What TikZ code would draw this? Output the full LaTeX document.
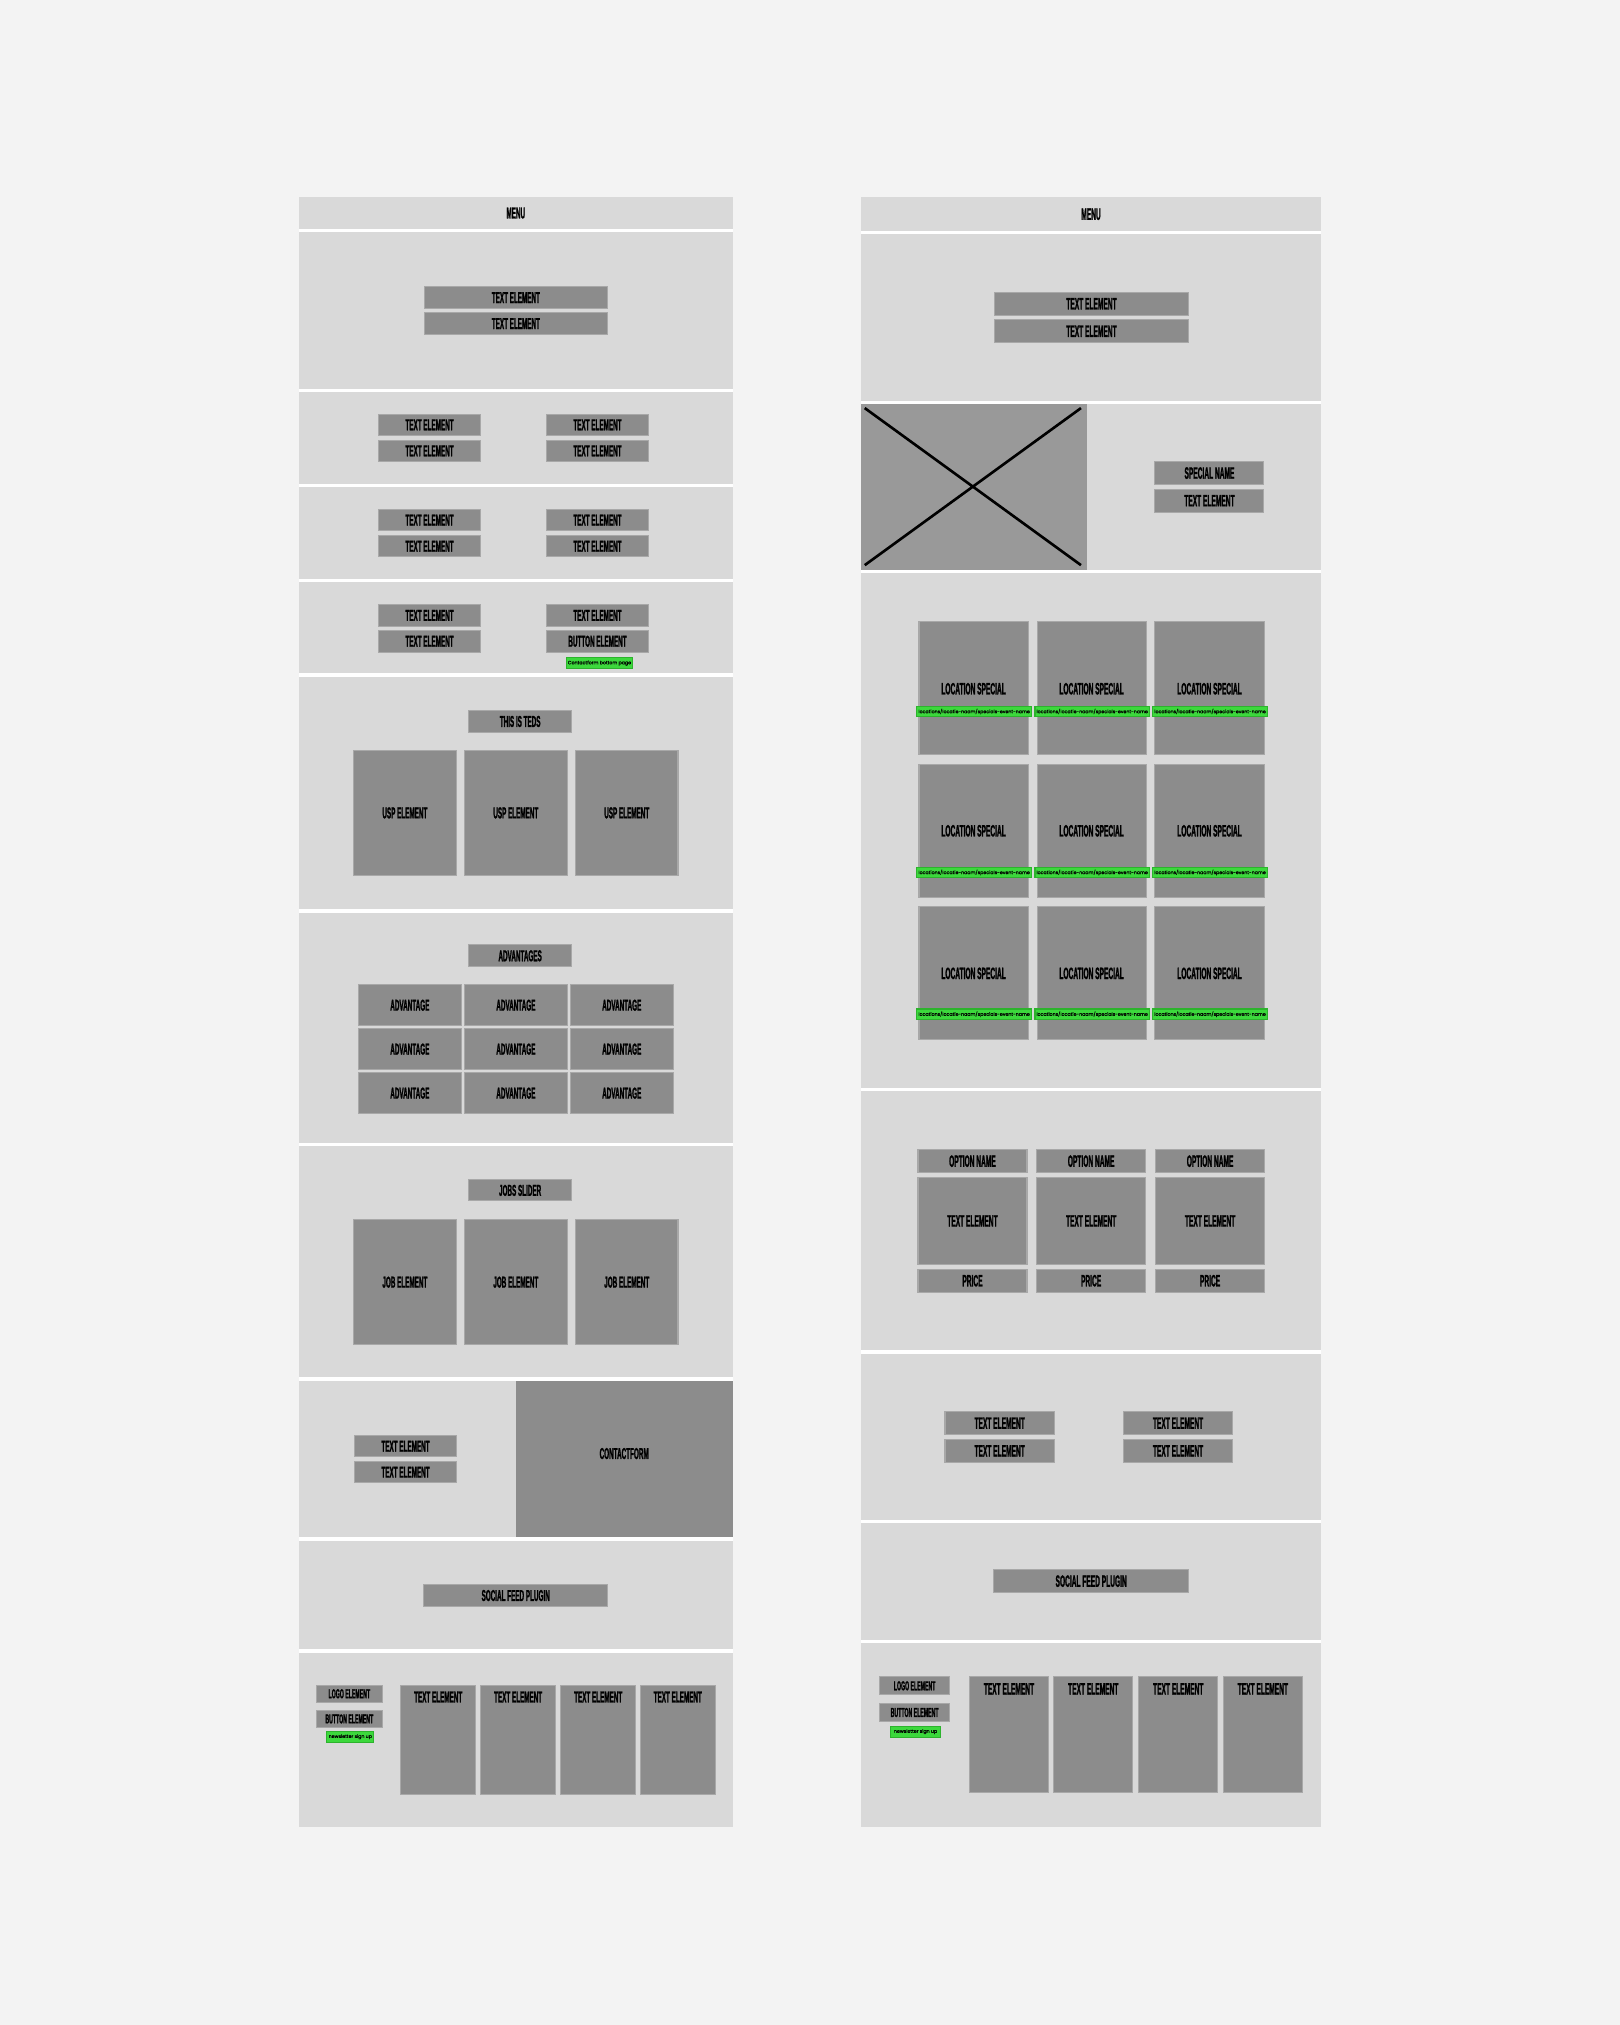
\documentclass[tikz,border=0pt]{standalone}
\usepackage{fontspec}
\newfontfamily\wirefont[FakeStretch=0.4,FakeBold=1.2]{Liberation Sans Bold}
\newfontfamily\tagfont[FakeBold=0.6]{Poppins}
\definecolor{pagebg}{HTML}{F3F3F3}
\definecolor{secgray}{HTML}{D9D9D9}
\definecolor{boxgray}{HTML}{8C8C8C}
\definecolor{boxedge}{HTML}{A8A8A8}
\definecolor{imggray}{HTML}{999999}
\definecolor{taggreen}{HTML}{3CD83C}
\definecolor{tagedge}{HTML}{2DB32D}
\tikzset{
  sec/.style={fill=secgray},
  elem/.style={fill=boxgray, draw=boxedge, line width=0.3pt},
  lbl/.style={font=\wirefont\fontsize{4.5}{5}\selectfont, inner sep=0pt},
  lblR/.style={font=\wirefont\fontsize{4.7}{5}\selectfont, inner sep=0pt},
  lblS/.style={font=\wirefont\fontsize{3.7}{4}\selectfont, inner sep=0pt},
  tag/.style={fill=taggreen, draw=tagedge, line width=0.3pt},
  taglbl/.style={font=\tagfont\fontsize{1.35}{1.6}\selectfont, inner sep=0pt}
}
\begin{document}
\begin{tikzpicture}[x=0.0129187cm, y=-0.0129187cm]
\fill[pagebg] (0,0) rectangle (1254,1568);
\useasboundingbox (0,0) rectangle (1254,1568);

%%% desktop page (left)
\fill[white] (231.5,152.7) rectangle (567.2,1414.7);
\foreach \a/\b in {152.7/177.3,179.8/301.1,303.4/374.9,377.2/448.2,450.8/521.5,524.3/703.9,
  706.7/885.3,887.6/1066.4,1069.2/1190.3,1193.1/1277.2,1279.8/1414.7}
  \fill[sec] (231.5,\a) rectangle (567.2,\b);

\node[lbl] (menuL) at (399.4,165) {MENU};

\foreach \x/\y/\X/\Y/\t [count=\i] in {
  328.5/222.2/470.4/238.7/TEXT ELEMENT,
  328.5/242.3/470.4/258.8/TEXT ELEMENT,
  292.9/320.7/372.3/337.2/TEXT ELEMENT,
  422.9/320.7/502.4/337.2/TEXT ELEMENT,
  292.9/340.8/372.3/357.4/TEXT ELEMENT,
  422.9/340.8/502.4/357.4/TEXT ELEMENT,
  292.9/394.5/372.3/411/TEXT ELEMENT,
  422.9/394.5/502.4/411/TEXT ELEMENT,
  292.9/414.7/372.3/431.2/TEXT ELEMENT,
  422.9/414.7/502.4/431.2/TEXT ELEMENT,
  292.9/468.3/372.3/484.8/TEXT ELEMENT,
  422.9/468.3/502.4/484.8/TEXT ELEMENT,
  292.9/488.2/372.3/504.9/TEXT ELEMENT,
  422.9/488.2/502.4/504.9/BUTTON ELEMENT,
  363/550.4/442.5/566.9/THIS IS TEDS,
  273.8/580.8/353.2/678.1/USP ELEMENT,
  359.7/580.8/439.1/678.1/USP ELEMENT,
  445.6/580.8/525/678.1/USP ELEMENT,
  363/731.7/442.5/748.5/ADVANTAGES,
  363/913.6/442.5/929.9/JOBS SLIDER,
  273.8/944.4/353.2/1041.2/JOB ELEMENT,
  359.7/944.4/439.1/1041.2/JOB ELEMENT,
  445.6/944.4/525/1041.2/JOB ELEMENT,
  274.3/1111.6/353.7/1128.1/TEXT ELEMENT,
  274.3/1131.7/353.7/1148.2/TEXT ELEMENT,
  328.2/1227.2/470.4/1243.7/SOCIAL FEED PLUGIN}
{
  \draw[elem] (\x,\y) rectangle (\X,\Y);
  \node[lbl] (L\i) at ({(\x+\X)/2},{(\y+\Y)/2}) {\t};
}

% contact form block
\fill[boxgray] (399.4,1069.2) rectangle (567.2,1190.3);
\node[lbl] (form) at (483.3,1125.5) {CONTACTFORM};

% advantages grid
\foreach \y [count=\r] in {762.5,796.5,830.6}
  \foreach \x [count=\c] in {277.6,359.7,441.7}
  {
    \draw[elem] (\x,\y) rectangle ++(79.5,31.7);
    \node[lbl] (adv\r\c) at (\x+39.75,\y+15.85) {ADVANTAGE};
  }

\draw[tag] (438.9,509.3) rectangle (489.5,517.6);
\node[taglbl] (cfTag) at (464.2,513.45) {Contactform bottom page};

% footer
\draw[elem] (245,1305) rectangle (296,1318);
\node[lblS] (logoL) at (270.5,1311.5) {LOGO ELEMENT};
\draw[elem] (245,1324.5) rectangle (296,1337.6);
\node[lblS] (btnL) at (270.5,1331) {BUTTON ELEMENT};
\draw[tag] (253,1340.6) rectangle (289.5,1349);
\node[taglbl] (newsL) at (271.25,1344.8) {newsletter sign up};
\foreach \x [count=\i] in {310.4,372.3,434.3,495.9}
{
  \draw[elem] (\x,1305) rectangle ++(57.8,84.6);
  \node[lbl] (footL\i) at (\x+28.9,1314) {TEXT ELEMENT};
}

%%% locations page (right)
\fill[white] (666.5,152.7) rectangle (1023,1414.7);
\foreach \a/\b in {152.7/178.8,181.4/310.2,312.7/441,443.5/842.5,845/1045.5,
  1048.6/1176.8,1179.4/1269.5,1272/1414.7}
  \fill[sec] (666.5,\a) rectangle (1023,\b);

\node[lblR] (menuR) at (844.8,165.9) {MENU};

% image placeholder
\fill[imggray] (667,313) rectangle (841.7,441);
\draw[line width=0.75pt] (669.6,316) -- (837,437.6) (669.6,437.6) -- (837,316);

\foreach \x/\y/\X/\Y/\t [count=\i] in {
  769.7/226.3/920.6/244.1/TEXT ELEMENT,
  769.7/247.7/920.6/265.3/TEXT ELEMENT,
  894.3/357.4/978.7/375.2/SPECIAL NAME,
  894.3/378.8/978.7/396.6/TEXT ELEMENT,
  731.7/1093.2/816.4/1110.8/TEXT ELEMENT,
  870/1093.2/954.4/1110.8/TEXT ELEMENT,
  731.7/1114.7/816.4/1132.2/TEXT ELEMENT,
  870/1114.7/954.4/1132.2/TEXT ELEMENT,
  769.4/1215.3/920.4/1233.3/SOCIAL FEED PLUGIN}
{
  \draw[elem] (\x,\y) rectangle (\X,\Y);
  \node[lblR] (R\i) at ({(\x+\X)/2},{(\y+\Y)/2}) {\t};
}

% location specials
\foreach \y/\ly/\gy [count=\r] in {481.2/533.3/547,591.6/643.3/671.6,702.1/753.7/781.3}
  \foreach \x [count=\c] in {711.6,803,894.3}
  {
    \draw[elem] (\x,\y) rectangle ++(84.5,103);
    \node[lblR] (loc\r\c) at (\x+42.25,\ly) {LOCATION SPECIAL};
    \draw[tag] (\x-1.6,\gy) rectangle ++(88.5,8);
    \node[taglbl] (url\r\c) at (\x+42.65,\gy+4) {locations/locatie-naam/specials-event-name};
  }

% options
\foreach \x [count=\c] in {710.8,802.7,894.8}
{
  \draw[elem] (\x,890.2) rectangle ++(84.4,17.8);
  \node[lblR] (opt\c) at (\x+42.2,899.1) {OPTION NAME};
  \draw[elem] (\x,911.6) rectangle ++(84.4,67.6);
  \node[lblR] (optTxt\c) at (\x+42.2,945.4) {TEXT ELEMENT};
  \draw[elem] (\x,982.8) rectangle ++(84.4,17.8);
  \node[lblR] (price\c) at (\x+42.2,991.7) {PRICE};
}

% footer
\draw[elem] (681,1298.4) rectangle (735.4,1312.3);
\node[lblS] (logoR) at (708.2,1305.35) {LOGO ELEMENT};
\draw[elem] (681,1319) rectangle (735.4,1333);
\node[lblS] (btnR) at (708.2,1326) {BUTTON ELEMENT};
\draw[tag] (689.4,1336.6) rectangle (728.4,1345.1);
\node[taglbl] (newsR) at (708.9,1340.85) {newsletter sign up};
\foreach \x [count=\i] in {750.6,815.9,881.7,947.2}
{
  \draw[elem] (\x,1298.4) rectangle ++(61.3,89.7);
  \node[lblR] (footR\i) at (\x+30.65,1307.7) {TEXT ELEMENT};
}
\end{tikzpicture}
\end{document}
